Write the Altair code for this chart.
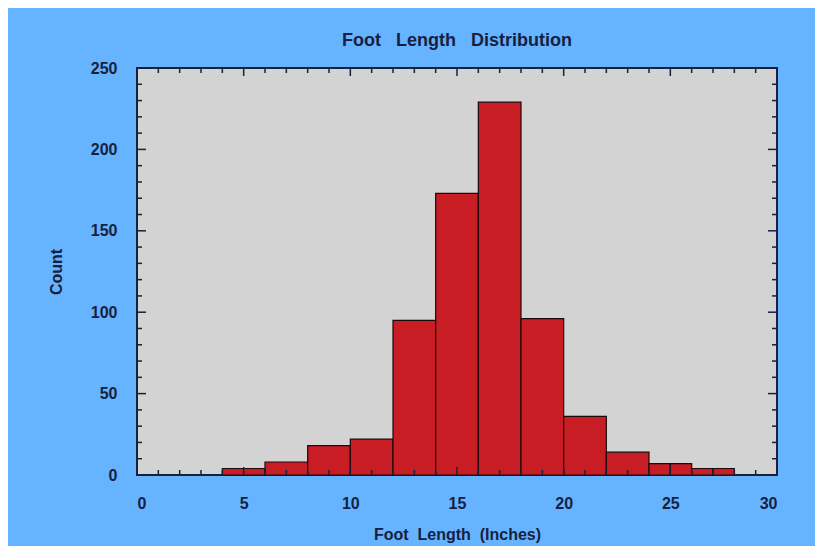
import altair as alt
import pandas as pd

# Histogram data
bin_start = [4, 6, 8, 10, 12, 14, 16, 18, 20, 22, 24, 25, 26, 27]
bin_end   = [6, 8, 10, 12, 14, 16, 18, 20, 22, 24, 25, 26, 27, 28]
counts    = [4, 8, 18, 22, 95, 173, 229, 96, 36, 14, 7, 7, 4, 4]

x_major = [0, 5, 10, 15, 20, 25, 30]
x_minor = [v for v in range(0, 31) if v % 5 != 0]
y_major = [0, 50, 100, 150, 200, 250]
y_minor = [v for v in range(0, 251, 10) if v % 50 != 0]

W, H = 640, 407
INK = "#16213f"
FONT = "Liberation Sans"

bars_df = pd.DataFrame({"start": bin_start, "end": bin_end, "count": counts})
xmaj_df = pd.DataFrame({"v": x_major})
xmin_df = pd.DataFrame({"v": x_minor})
ymaj_df = pd.DataFrame({"v": y_major})
ymin_df = pd.DataFrame({"v": y_minor})

xs = alt.Scale(domain=[0, 30], nice=False, zero=False)
ys = alt.Scale(domain=[0, 250], nice=False)

bars = alt.Chart(bars_df).mark_rect(
    fill="#c81d25", stroke="#1a0a0a", strokeWidth=1.2
).encode(
    x=alt.X("start:Q", scale=xs, axis=alt.Axis(
        values=x_major, ticks=False, domain=False, grid=False,
        title="Foot\u00a0\u00a0Length\u00a0\u00a0(Inches)", titlePadding=15,
        labelPadding=20, labelFontSize=16, titleFontSize=16)),
    x2="end:Q",
    y=alt.Y("count:Q", scale=ys, axis=alt.Axis(
        values=y_major, ticks=False, domain=False, grid=False,
        title="Count", titlePadding=26, labelPadding=20,
        labelFontSize=16, titleFontSize=16)),
    y2=alt.datum(0),
)

def xticks(df, length):
    bottom = alt.Chart(df).mark_rule(color=INK, strokeWidth=1.5).encode(
        x=alt.X("v:Q", scale=xs), y=alt.value(H), y2=alt.value(H - length))
    top = alt.Chart(df).mark_rule(color=INK, strokeWidth=1.5).encode(
        x=alt.X("v:Q", scale=xs), y=alt.value(0), y2=alt.value(length))
    return [bottom, top]

def yticks(df, length):
    left = alt.Chart(df).mark_rule(color=INK, strokeWidth=1.5).encode(
        y=alt.Y("v:Q", scale=ys), x=alt.value(0), x2=alt.value(length))
    right = alt.Chart(df).mark_rule(color=INK, strokeWidth=1.5).encode(
        y=alt.Y("v:Q", scale=ys), x=alt.value(W), x2=alt.value(W - length))
    return [left, right]

layers = [bars] + xticks(xmin_df, 5) + xticks(xmaj_df, 8) + yticks(ymin_df, 5) + yticks(ymaj_df, 9)

chart = alt.layer(*layers).properties(
    width=W, height=H,
    title=alt.TitleParams("Foot\u00a0\u00a0\u00a0Length\u00a0\u00a0\u00a0Distribution",
                          fontSize=18, fontWeight="bold", font=FONT, color=INK,
                          offset=10, anchor="middle"),
    background="#66b3ff",
    autosize=alt.AutoSizeParams(type="none"),
    padding={"left": 129, "top": 60, "right": 38, "bottom": 71},
).configure_view(
    fill="#d3d3d3", stroke=INK, strokeWidth=2
).configure_axis(
    labelFont=FONT, titleFont=FONT, labelFontWeight="bold", titleFontWeight="bold",
    labelColor=INK, titleColor=INK
)

chart.save("out.html", embed_options={"renderer": "svg", "actions": False})
